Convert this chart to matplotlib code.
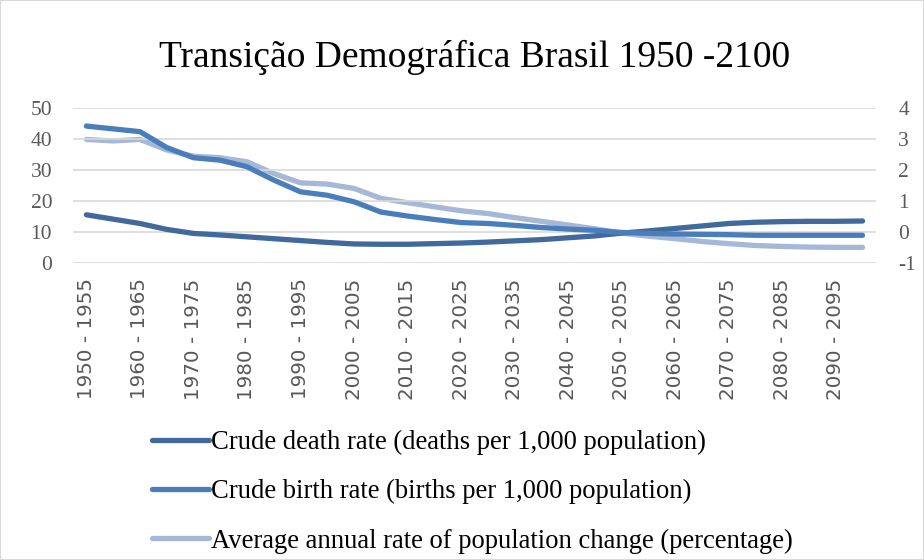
import matplotlib.pyplot as plt
from matplotlib.patches import Rectangle

plt.rcParams["axes.unicode_minus"] = False

periods = [f"{y} - {y + 5}" for y in range(1950, 2100, 5)]

death_rate = [15.6, 14.2, 12.8, 10.9, 9.6, 9.1, 8.5, 7.9, 7.3, 6.7,
              6.2, 6.1, 6.1, 6.3, 6.5, 6.8, 7.2, 7.6, 8.2, 8.8,
              9.7, 10.4, 11.2, 12.0, 12.8, 13.2, 13.4, 13.5, 13.5, 13.6]
birth_rate = [44.2, 43.3, 42.4, 37.3, 34.0, 33.2, 31.1, 26.8, 23.0, 21.9,
              19.8, 16.5, 15.2, 14.1, 13.1, 12.8, 12.2, 11.5, 11.0, 10.6,
              9.9, 9.6, 9.4, 9.3, 9.2, 9.0, 9.0, 9.0, 9.0, 9.0]
growth_rate = [2.99, 2.94, 2.99, 2.65, 2.45, 2.40, 2.27, 1.89, 1.59, 1.55,
               1.41, 1.09, 0.95, 0.82, 0.69, 0.60, 0.47, 0.35, 0.23, 0.11,
               -0.03, -0.13, -0.21, -0.30, -0.37, -0.43, -0.46, -0.48, -0.49, -0.49]

labels = ["Crude death rate (deaths per 1,000 population)",
          "Crude birth rate (births per 1,000 population)",
          "Average annual rate of population change (percentage)"]
colors = ["#41699C", "#4A7EBB", "#A6B8D8"]

serif = "Liberation Serif"
grey = "#595959"

fig = plt.figure(figsize=(9.24, 5.6), dpi=100)
fig.patches.append(Rectangle((0, 0), 1, 1, transform=fig.transFigure,
                             fill=False, edgecolor="#D9D9D9", linewidth=1.5))
ax = fig.add_axes([0.079, 0.530, 0.869, 0.277])
ax2 = ax.twinx()

x = list(range(len(periods)))
l1, = ax.plot(x, death_rate, color=colors[0], linewidth=3.8, solid_capstyle="round")
l2, = ax.plot(x, birth_rate, color=colors[1], linewidth=3.8, solid_capstyle="round")
l3, = ax2.plot(x, growth_rate, color=colors[2], linewidth=3.8, solid_capstyle="round")
ax.set_zorder(ax2.get_zorder() + 1)
ax.patch.set_visible(False)

ax.set_xlim(-0.5, len(periods) - 0.5)
ax.set_ylim(0, 50)
ax2.set_ylim(-1, 4)
ax.set_yticks(range(0, 51, 10))
ax2.set_yticks(range(-1, 5))
ax.set_xticks(x[::2])
ax.set_xticklabels(periods[::2], rotation=90, fontsize=14.3, color=grey,
                   fontfamily="DejaVu Sans")
for a in (ax, ax2):
    for s in a.spines.values():
        s.set_visible(False)
    a.tick_params(length=0)
ax.tick_params(axis="x", pad=11)
ax.tick_params(axis="y", pad=15)
ax2.tick_params(axis="y", pad=16)
for t in ax.get_yticklabels() + ax2.get_yticklabels():
    t.set_fontfamily(serif)
    t.set_fontsize(15.5)
    t.set_color(grey)
ax.grid(axis="y", color="#D9D9D9", linewidth=1.2)
ax.set_axisbelow(True)

fig.text(0.514, 0.898, "Transição Demográfica Brasil 1950 -2100", ha="center",
         va="center", fontfamily=serif, fontsize=27)

fig.legend([l1, l2, l3], labels, loc="upper left", bbox_to_anchor=(0.164, 0.232),
           frameon=False, prop={"family": serif, "size": 19.2},
           handlelength=2.15, handletextpad=0.08, labelspacing=0.9,
           borderaxespad=0, borderpad=0)

fig.savefig("out.png", dpi=100)
